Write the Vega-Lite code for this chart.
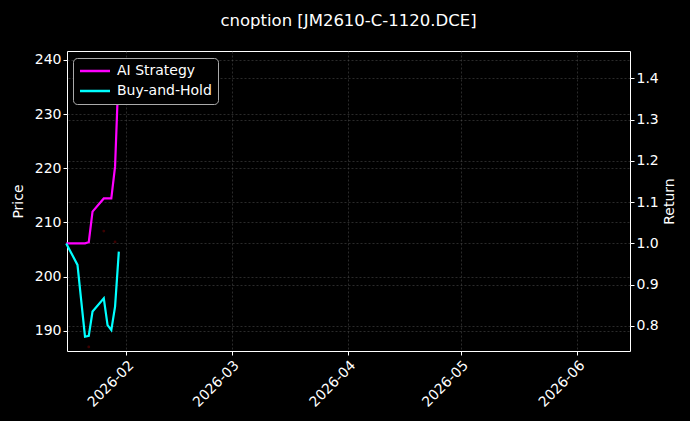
{
  "$schema": "https://vega.github.io/schema/vega-lite/v6.json",
  "width": 563,
  "height": 300,
  "autosize": "none",
  "padding": {"left": 67, "top": 51, "right": 60, "bottom": 70},
  "background": "black",
  "title": {
    "text": "cnoption [JM2610-C-1120.DCE]",
    "color": "white",
    "font": "DejaVu Sans",
    "fontSize": 16.5,
    "fontWeight": "normal",
    "anchor": "middle",
    "offset": 22
  },
  "config": {
    "view": {"stroke": "white", "strokeWidth": 1},
    "axis": {
      "domain": false,
      "tickColor": "white",
      "tickSize": 4,
      "labelColor": "white",
      "labelFont": "DejaVu Sans",
      "labelFontSize": 14,
      "titleColor": "white",
      "titleFont": "DejaVu Sans",
      "titleFontSize": 14,
      "titleFontWeight": "normal",
      "gridColor": "#555555",
      "gridDash": [2, 2],
      "gridWidth": 0.5
    },
    "legend": {
      "labelColor": "white",
      "labelFont": "DejaVu Sans",
      "labelFontSize": 14
    }
  },
  "datasets": {
    "returns": [
      {"date": "2026-01-16", "series": "AI Strategy", "ret": 1.0},
      {"date": "2026-01-19", "series": "AI Strategy", "ret": 1.0},
      {"date": "2026-01-20", "series": "AI Strategy", "ret": 1.0},
      {"date": "2026-01-21", "series": "AI Strategy", "ret": 1.0},
      {"date": "2026-01-22", "series": "AI Strategy", "ret": 1.003},
      {"date": "2026-01-23", "series": "AI Strategy", "ret": 1.077},
      {"date": "2026-01-26", "series": "AI Strategy", "ret": 1.109},
      {"date": "2026-01-27", "series": "AI Strategy", "ret": 1.109},
      {"date": "2026-01-28", "series": "AI Strategy", "ret": 1.109},
      {"date": "2026-01-29", "series": "AI Strategy", "ret": 1.186},
      {"date": "2026-01-30", "series": "AI Strategy", "ret": 1.43},
      {"date": "2026-01-16", "series": "Buy-and-Hold", "ret": 1.0},
      {"date": "2026-01-19", "series": "Buy-and-Hold", "ret": 0.948},
      {"date": "2026-01-20", "series": "Buy-and-Hold", "ret": 0.861},
      {"date": "2026-01-21", "series": "Buy-and-Hold", "ret": 0.774},
      {"date": "2026-01-22", "series": "Buy-and-Hold", "ret": 0.776},
      {"date": "2026-01-23", "series": "Buy-and-Hold", "ret": 0.835},
      {"date": "2026-01-26", "series": "Buy-and-Hold", "ret": 0.867},
      {"date": "2026-01-27", "series": "Buy-and-Hold", "ret": 0.802},
      {"date": "2026-01-28", "series": "Buy-and-Hold", "ret": 0.79},
      {"date": "2026-01-29", "series": "Buy-and-Hold", "ret": 0.847},
      {"date": "2026-01-30", "series": "Buy-and-Hold", "ret": 0.98}
    ],
    "trades": [
      {"date": "2026-01-22", "price": 187.0},
      {"date": "2026-01-26", "price": 208.4},
      {"date": "2026-01-29", "price": 206.4}
    ]
  },
  "encoding": {
    "x": {
      "field": "date",
      "type": "temporal",
      "scale": {
        "type": "utc",
        "domain": [
          {"year": 2026, "month": 1, "date": 16, "hours": 5, "utc": true},
          {"year": 2026, "month": 6, "date": 15, "hours": 1, "utc": true}
        ]
      },
      "axis": {
        "title": null,
        "grid": true,
        "format": "%Y-%m",
        "labelAngle": -45,
        "labelPadding": 3,
        "values": [
          {"year": 2026, "month": 2, "date": 1, "utc": true},
          {"year": 2026, "month": 3, "date": 1, "utc": true},
          {"year": 2026, "month": 4, "date": 1, "utc": true},
          {"year": 2026, "month": 5, "date": 1, "utc": true},
          {"year": 2026, "month": 6, "date": 1, "utc": true}
        ]
      }
    }
  },
  "layer": [
    {
      "data": {"name": "trades"},
      "mark": {"type": "point", "filled": true, "color": "#550000", "size": 8},
      "encoding": {
        "y": {
          "field": "price",
          "type": "quantitative",
          "scale": {"domain": [186.25, 241.66], "nice": false, "zero": false},
          "axis": {
            "orient": "left",
            "title": "Price",
            "titlePadding": 9,
            "grid": true,
            "values": [190, 200, 210, 220, 230, 240]
          }
        }
      }
    },
    {
      "data": {"name": "returns"},
      "mark": {"type": "line", "strokeWidth": 2.2},
      "encoding": {
        "y": {
          "field": "ret",
          "type": "quantitative",
          "scale": {"domain": [0.7394, 1.4661], "nice": false, "zero": false},
          "axis": {
            "orient": "right",
            "title": "Return",
            "titleAngle": 270,
            "titlePadding": 18,
            "grid": true,
            "format": ".1f",
            "values": [0.8, 0.9, 1.0, 1.1, 1.2, 1.3, 1.4]
          }
        },
        "color": {
          "field": "series",
          "type": "nominal",
          "scale": {"domain": ["AI Strategy", "Buy-and-Hold"], "range": ["#ff00ff", "#00ffff"]},
          "legend": {
            "title": null,
            "orient": "none",
            "legendX": 6,
            "legendY": 7,
            "symbolType": "M-1.2,0H4.8",
            "symbolSize": 100,
            "symbolStrokeWidth": 2.5,
            "labelOffset": 24,
            "rowPadding": 6,
            "padding": 6,
            "fillColor": "black",
            "strokeColor": "#aaaaaa",
            "cornerRadius": 4
          }
        }
      }
    }
  ],
  "resolve": {"scale": {"y": "independent"}}
}
